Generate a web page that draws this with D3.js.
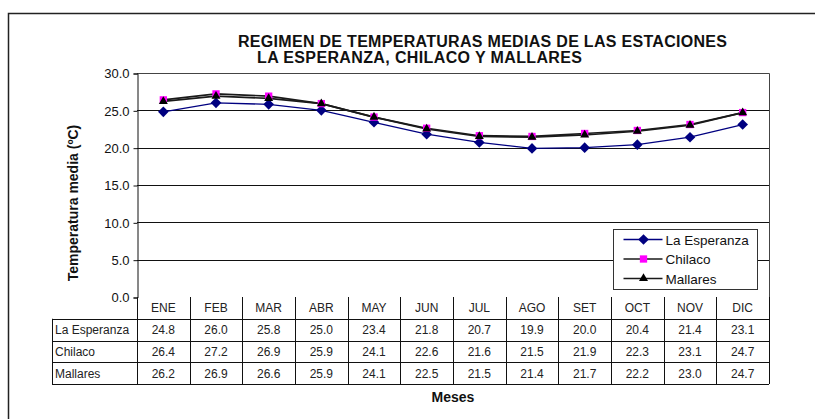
<!DOCTYPE html>
<html>
<head>
<meta charset="utf-8">
<script src="https://cdn.jsdelivr.net/npm/d3@7"></script>
<style>
  body { margin: 0; background: #fff; }
  svg { display: block; font-family: "Liberation Sans", Arial, sans-serif; }
</style>
</head>
<body>
<div id="chart"></div>
<script>
const months = ["ENE", "FEB", "MAR", "ABR", "MAY", "JUN", "JUL", "AGO", "SET", "OCT", "NOV", "DIC"];
const laEsperanza = [24.8, 26.0, 25.8, 25.0, 23.4, 21.8, 20.7, 19.9, 20.0, 20.4, 21.4, 23.1];
const chilaco = [26.4, 27.2, 26.9, 25.9, 24.1, 22.6, 21.6, 21.5, 21.9, 22.3, 23.1, 24.7];
const mallares = [26.2, 26.9, 26.6, 25.9, 24.1, 22.5, 21.5, 21.4, 21.7, 22.2, 23.0, 24.7];
const yTicks = [0, 5, 10, 15, 20, 25, 30];

const series = [
  {name: "La Esperanza", values: laEsperanza, line: "#000080", fill: "#000080", symbol: d3.symbolDiamond2, size: 72},
  {name: "Chilaco", values: chilaco, line: "#1a1a1a", fill: "#ff00ff", symbol: d3.symbolSquare2, size: 68},
  {name: "Mallares", values: mallares, line: "#1a1a1a", fill: "#000000", symbol: d3.symbolTriangle2, size: 58}
];

const width = 815, height = 419;
let margin = ({top: 73, right: 46, bottom: 122, left: 137});
const plotBottom = height - margin.bottom;   // 297
const rowH = 21.75;
const labelLeft = 52;

const svg = d3.select("#chart").append("svg")
  .attr("width", width)
  .attr("height", height);

// outer frame (only left and top visible)
svg.append("path")
  .attr("d", `M8.5,${height} L8.5,13.5 L${width},13.5`)
  .attr("fill", "none")
  .attr("stroke", "#222")
  .attr("stroke-width", 1.5);

let x = d3.scaleBand()
  .domain(months)
  .range([margin.left, width - margin.right]);

let y = d3.scaleLinear()
  .domain([0, 30])
  .range([plotBottom, margin.top]);

// title
svg.append("text")
  .attr("x", 238).attr("y", 47)
  .style("font", "bold 16px 'Liberation Sans', Arial, sans-serif")
  .attr("textLength", 489)
  .attr("fill", "#111")
  .text("REGIMEN DE TEMPERATURAS MEDIAS DE LAS ESTACIONES");
svg.append("text")
  .attr("x", 257).attr("y", 63)
  .style("font", "bold 16px 'Liberation Sans', Arial, sans-serif")
  .attr("textLength", 325)
  .attr("fill", "#111")
  .text("LA ESPERANZA, CHILACO Y MALLARES");

// gridlines
svg.selectAll("line.grid")
  .data(yTicks.filter(d => d > 0 && d < 30))
  .enter().append("line")
  .attr("class", "grid")
  .attr("x1", margin.left).attr("x2", width - margin.right)
  .attr("y1", d => Math.round(y(d)) + 0.5).attr("y2", d => Math.round(y(d)) + 0.5)
  .attr("stroke", "#111");

// plot frame top + right
svg.append("path")
  .attr("d", `M${margin.left},${Math.round(y(30)) + 0.5} L${width - margin.right + 0.5},${Math.round(y(30)) + 0.5} L${width - margin.right + 0.5},${plotBottom}`)
  .attr("fill", "none")
  .attr("stroke", "#444");

// y axis
const yAxis = svg.append("g")
  .attr("transform", `translate(${margin.left + 0.5},0.5)`)
  .call(d3.axisLeft(y).tickValues(yTicks).tickFormat(d3.format(".1f")).tickSize(4).tickPadding(4));
yAxis.select(".domain").attr("stroke", "#111");
yAxis.selectAll(".tick line").attr("stroke", "#111");
yAxis.selectAll("text")
  .style("font", "13px 'Liberation Sans', Arial, sans-serif")
  .attr("fill", "#111");

svg.append("text")
  .attr("transform", "translate(78,203) rotate(-90)")
  .attr("text-anchor", "middle")
  .style("font", "bold 14px 'Liberation Sans', Arial, sans-serif")
  .attr("fill", "#111")
  .text("Temperatura media (ºC)");

// series lines and markers
const line = d3.line()
  .x((d, i) => x(months[i]) + x.bandwidth() / 2)
  .y(d => y(d));

series.forEach(s => {
  svg.append("path")
    .datum(s.values)
    .attr("d", line)
    .attr("fill", "none")
    .attr("stroke", s.line)
    .attr("stroke-width", s.name === "La Esperanza" ? 1.3 : 1.7);
});
series.forEach(s => {
  svg.selectAll(null)
    .data(s.values)
    .enter().append("path")
    .attr("transform", (d, i) => `translate(${x(months[i]) + x.bandwidth() / 2},${y(d)})`)
    .attr("d", d3.symbol().type(s.symbol).size(s.size))
    .attr("fill", s.fill);
});

// legend
const legend = svg.append("g").attr("transform", "translate(613.5,229.5)");
legend.append("rect")
  .attr("width", 144).attr("height", 60)
  .attr("fill", "#fff").attr("stroke", "#333");
series.forEach((s, i) => {
  const ly = 10 + i * 19.5;
  legend.append("line")
    .attr("x1", 10).attr("x2", 49).attr("y1", ly).attr("y2", ly)
    .attr("stroke", s.line).attr("stroke-width", 1.3);
  legend.append("path")
    .attr("transform", `translate(30,${ly})`)
    .attr("d", d3.symbol().type(s.symbol).size(s.size))
    .attr("fill", s.fill);
  legend.append("text")
    .attr("x", 52).attr("y", ly + 5)
    .style("font", "13.5px 'Liberation Sans', Arial, sans-serif")
    .attr("fill", "#111")
    .text(s.name);
});

// data table
const table = svg.append("g").attr("stroke", "#111").attr("fill", "none");
const tableRight = width - margin.right;
const tableBottom = plotBottom + rowH * (series.length + 1);
for (let r = 1; r <= series.length + 1; r++) {
  const yy = Math.round(plotBottom + rowH * r) + 0.5;
  table.append("line")
    .attr("x1", labelLeft).attr("x2", tableRight)
    .attr("y1", yy).attr("y2", yy);
}
months.forEach((m, i) => {
  const xx = Math.round(x(m)) + 0.5;
  table.append("line")
    .attr("x1", xx).attr("x2", xx)
    .attr("y1", plotBottom).attr("y2", tableBottom);
});
table.append("line")
  .attr("x1", tableRight + 0.5).attr("x2", tableRight + 0.5)
  .attr("y1", plotBottom).attr("y2", tableBottom);
table.append("line")
  .attr("x1", labelLeft + 0.5).attr("x2", labelLeft + 0.5)
  .attr("y1", plotBottom + rowH).attr("y2", tableBottom);

svg.selectAll("text.month")
  .data(months)
  .enter().append("text")
  .attr("class", "month")
  .attr("x", d => x(d) + x.bandwidth() / 2)
  .attr("y", plotBottom + rowH / 2 + 4.5)
  .attr("text-anchor", "middle")
  .style("font", "12px 'Liberation Sans', Arial, sans-serif")
  .attr("fill", "#222")
  .text(d => d);

series.forEach((s, r) => {
  const ry = plotBottom + rowH * (r + 1) + rowH / 2 + 4.5;
  svg.append("text")
    .attr("x", labelLeft + 3).attr("y", ry)
    .style("font", "12px 'Liberation Sans', Arial, sans-serif")
    .attr("fill", "#222")
    .text(s.name);
  svg.selectAll(null)
    .data(s.values)
    .enter().append("text")
    .attr("x", (d, i) => x(months[i]) + x.bandwidth() / 2)
    .attr("y", ry)
    .attr("text-anchor", "middle")
    .style("font", "12px 'Liberation Sans', Arial, sans-serif")
    .attr("fill", "#222")
    .text(d => d3.format(".1f")(d));
});

svg.append("text")
  .attr("x", (margin.left + tableRight) / 2)
  .attr("y", 402)
  .attr("text-anchor", "middle")
  .style("font", "bold 14px 'Liberation Sans', Arial, sans-serif")
  .attr("fill", "#111")
  .text("Meses");
</script>
</body>
</html>
